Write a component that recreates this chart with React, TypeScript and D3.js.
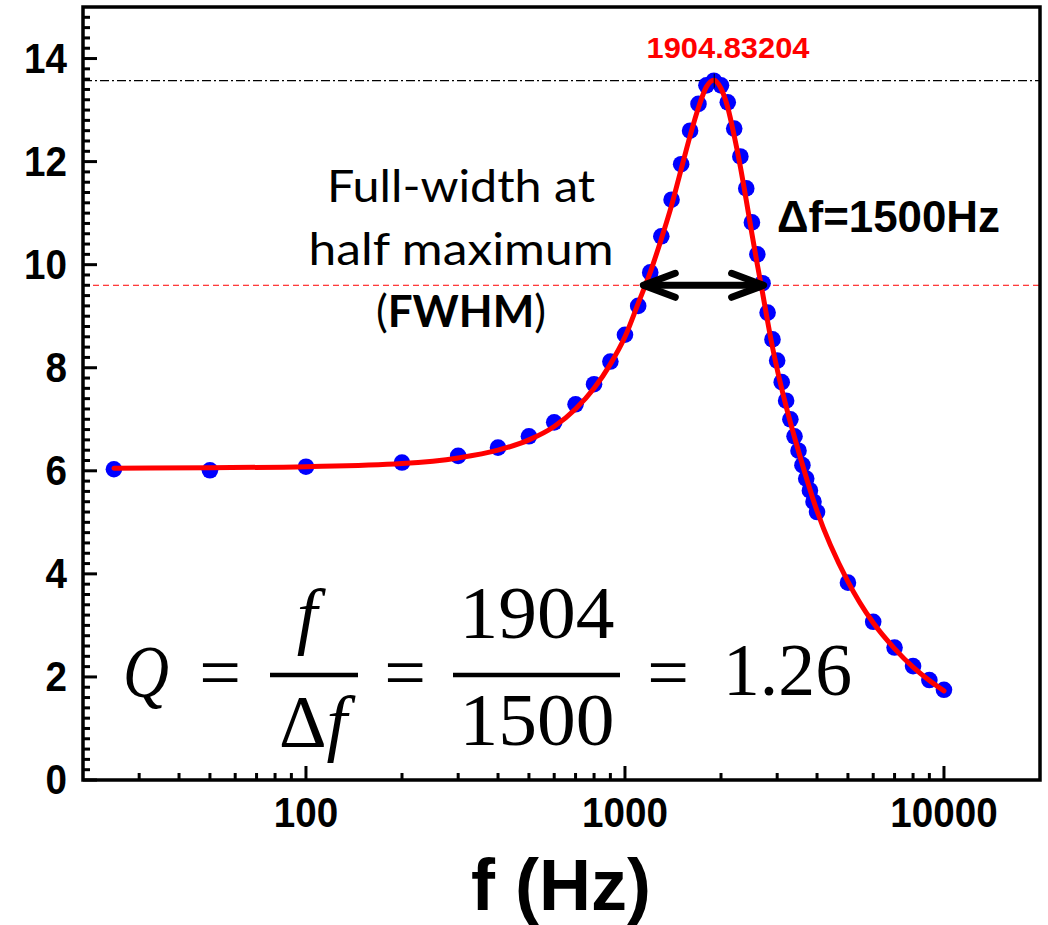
import React from "react";
import * as d3 from "d3";

// ---- data ----
const FREQ = [25, 50, 100, 200, 300, 400, 500, 600, 700, 800, 900, 1000, 1100, 1200, 1300, 1400, 1500, 1600, 1700, 1800, 1900, 2000, 2100, 2200, 2300, 2400, 2500, 2600, 2700, 2800, 2900, 3000, 3100, 3200, 3300, 3400, 3500, 3600, 3700, 3800, 3900, 4000, 5000, 6000, 7000, 8000, 9000, 10000];
const VALUES = [6.03, 6.01, 6.08, 6.16, 6.29, 6.45, 6.67, 6.94, 7.29, 7.68, 8.12, 8.64, 9.2, 9.85, 10.55, 11.26, 11.95, 12.6, 13.12, 13.48, 13.57, 13.48, 13.15, 12.64, 12.1, 11.48, 10.82, 10.2, 9.64, 9.07, 8.55, 8.14, 7.72, 7.36, 7.0, 6.67, 6.39, 6.11, 5.85, 5.62, 5.4, 5.2, 3.83, 3.07, 2.57, 2.21, 1.94, 1.75];

const FIT_FREQ = [25, 50, 100, 200, 300, 400, 500, 600, 700, 800, 900, 1000, 1100, 1200, 1300, 1400, 1500, 1600, 1700, 1800, 1900, 2000, 2100, 2200, 2300, 2400, 2500, 2600, 2700, 2800, 2900, 3000, 3200, 3500, 4000, 5000, 6000, 7000, 8000, 9000, 10000];
const FIT_VALUES = [6.05, 6.06, 6.08, 6.14, 6.25, 6.4, 6.6, 6.86, 7.2, 7.6, 8.07, 8.6, 9.25, 9.85, 10.5, 11.15, 11.85, 12.5, 13.05, 13.45, 13.58, 13.42, 13.05, 12.5, 11.9, 11.25, 10.6, 10.0, 9.45, 8.9, 8.4, 7.97, 7.25, 6.38, 5.22, 3.85, 3.05, 2.55, 2.19, 1.93, 1.73];

const X_MAJOR = [100, 1000, 10000];
const X_LABELS = ["100", "1000", "10000"];
const X_MINOR = [30, 40, 50, 60, 70, 80, 90, 200, 300, 400, 500, 600, 700, 800, 900, 2000, 3000, 4000, 5000, 6000, 7000, 8000, 9000];
const Y_MAJOR = [0, 2, 4, 6, 8, 10, 12, 14];
const Y_LABELS = ["0", "2", "4", "6", "8", "10", "12", "14"];

const PEAK_FREQ = 1904.83204;
const PEAK_VALUE = 13.57;
const PEAK_LABEL = "1904.83204";
const HALF_LEVEL = 9.6;
const FWHM_LOW = 1125;
const FWHM_HIGH = 2760;

const W = 1048;
const H = 925;

export default function App() {
  const x = d3.scaleLog().domain([20, 20000]).range([83, 1040]);
  const y = d3.scaleLinear().domain([0, 15]).range([780, 7]);

  const yMinor = d3.range(0, 75).map((i) => +(i * 0.2).toFixed(1)).filter((v) => Math.abs(v / 2 - Math.round(v / 2)) > 1e-6);

  const line = d3
    .line<number>()
    .x((_, i) => x(FIT_FREQ[i]))
    .y((d) => y(d))
    .curve(d3.curveMonotoneX);

  const yPeak = y(PEAK_VALUE);
  const yHalf = y(HALF_LEVEL);
  const ax1 = x(FWHM_LOW);
  const ax2 = x(FWHM_HIGH);
  const xPeak = x(PEAK_FREQ);

  const tickFont = "'Liberation Sans', Arial, sans-serif";
  const serif = "'Liberation Serif', 'Times New Roman', serif";

  return (
    <svg width={W} height={H} style={{ position: "absolute", left: 0, top: 0, background: "#fff" }}>
      <rect x={0} y={0} width={W} height={H} fill="#fff" />

      {/* reference lines */}
      <line x1={x(20)} x2={x(20000)} y1={yPeak} y2={yPeak} stroke="#000" strokeWidth={1.2} strokeDasharray="9,3,2,3" />
      <line x1={x(20)} x2={x(20000)} y1={yHalf} y2={yHalf} stroke="#ff0000" strokeWidth={1} strokeDasharray="6,4" />

      {/* data points */}
      {FREQ.map((f, i) => (
        <circle key={i} cx={x(f)} cy={y(VALUES[i])} r={8.3} fill="#0000ff" />
      ))}

      {/* fit curve */}
      <path d={line(FIT_VALUES) || ""} fill="none" stroke="#ff0000" strokeWidth={5} strokeLinejoin="round" strokeLinecap="round" />

      {/* peak marker */}
      <line x1={xPeak} x2={xPeak} y1={yPeak - 7} y2={yPeak + 7} stroke="#000" strokeWidth={1} />

      {/* axes box */}
      <rect x={x(20)} y={y(15)} width={x(20000) - x(20)} height={y(0) - y(15)} fill="none" stroke="#000" strokeWidth={3.5} />

      {/* x ticks */}
      {X_MAJOR.map((t) => (
        <line key={"xM" + t} x1={x(t)} x2={x(t)} y1={y(0)} y2={y(0) - 14} stroke="#000" strokeWidth={3} />
      ))}
      {X_MINOR.map((t) => (
        <line key={"xm" + t} x1={x(t)} x2={x(t)} y1={y(0)} y2={y(0) - 7} stroke="#000" strokeWidth={3} />
      ))}
      {X_MAJOR.map((t, i) => (
        <g key={"xl" + t} transform={`translate(${x(t)},827) scale(0.92,1)`}>
          <text x={0} y={0} textAnchor="middle" fontFamily={tickFont} fontWeight="bold" fontSize={42} fill="#000">
            {X_LABELS[i]}
          </text>
        </g>
      ))}

      {/* y ticks */}
      {Y_MAJOR.map((t) => (
        <line key={"yM" + t} x1={x(20)} x2={x(20) + 14} y1={y(t)} y2={y(t)} stroke="#000" strokeWidth={3} />
      ))}
      {yMinor.map((t) => (
        <line key={"ym" + t} x1={x(20)} x2={x(20) + 7} y1={y(t)} y2={y(t)} stroke="#000" strokeWidth={3} />
      ))}
      {Y_MAJOR.map((t, i) => (
        <g key={"yl" + t} transform={`translate(67,${y(t) + 14}) scale(0.92,1)`}>
          <text x={0} y={0} textAnchor="end" fontFamily={tickFont} fontWeight="bold" fontSize={42} fill="#000">
            {Y_LABELS[i]}
          </text>
        </g>
      ))}

      {/* x title */}
      <text x={561} y={910} textAnchor="middle" fontFamily={tickFont} fontWeight="bold" fontSize={72} fill="#000">
        f (Hz)
      </text>

      {/* peak label */}
      <text x={728} y={58} textAnchor="middle" fontFamily={tickFont} fontWeight="bold" fontSize={30} fill="#ff0000" textLength={163} lengthAdjust="spacingAndGlyphs">
        {PEAK_LABEL}
      </text>

      {/* FWHM annotation */}
      <text x={461} y={202} textAnchor="middle" fontFamily="Lato, 'Open Sans', sans-serif" fontSize={44} fill="#000" textLength={268} lengthAdjust="spacingAndGlyphs">
        Full-width at
      </text>
      <text x={461} y={265} textAnchor="middle" fontFamily="Lato, 'Open Sans', sans-serif" fontSize={44} fill="#000" textLength={305} lengthAdjust="spacingAndGlyphs">
        half maximum
      </text>
      <text x={461} y={327} textAnchor="middle" fontFamily="Lato, 'Open Sans', sans-serif" fontSize={44} fill="#000">
        (<tspan fontWeight="bold">FWHM</tspan>)
      </text>

      <text x={777} y={232} fontFamily={tickFont} fontWeight="bold" fontSize={45} fill="#000" textLength={223} lengthAdjust="spacingAndGlyphs">
        Δf=1500Hz
      </text>

      {/* double arrow */}
      <g stroke="#000" strokeWidth={7} strokeLinecap="round" strokeLinejoin="round" fill="none">
        <line x1={ax1 + 3} x2={ax2 - 3} y1={yHalf} y2={yHalf} />
        <polyline points={`${ax1 + 34},${yHalf - 12} ${ax1 + 2},${yHalf} ${ax1 + 34},${yHalf + 12}`} />
        <polyline points={`${ax2 - 34},${yHalf - 12} ${ax2 - 2},${yHalf} ${ax2 - 34},${yHalf + 12}`} />
      </g>

      {/* Q equation */}
      <g fontFamily={serif} fontSize={74} fill="#000">
        <text x={123} y={697} fontStyle="italic" textLength={46} lengthAdjust="spacingAndGlyphs">Q</text>
        <text x={220} y={697} textAnchor="middle">=</text>
        <text x={307} y={640} textAnchor="middle" fontStyle="italic">f</text>
        <line x1={270} x2={358} y1={675} y2={675} stroke="#000" strokeWidth={4.5} />
        <text x={313} y={747} textAnchor="middle">
          Δ<tspan fontStyle="italic">f</tspan>
        </text>
        <text x={405} y={697} textAnchor="middle">=</text>
        <text x={537} y={638} textAnchor="middle" textLength={155} lengthAdjust="spacingAndGlyphs">1904</text>
        <line x1={453} x2={620} y1={675} y2={675} stroke="#000" strokeWidth={4.5} />
        <text x={537} y={745} textAnchor="middle" textLength={155} lengthAdjust="spacingAndGlyphs">1500</text>
        <text x={668} y={697} textAnchor="middle">=</text>
        <text x={723} y={695} textLength={129} lengthAdjust="spacingAndGlyphs">1.26</text>
      </g>
    </svg>
  );
}
